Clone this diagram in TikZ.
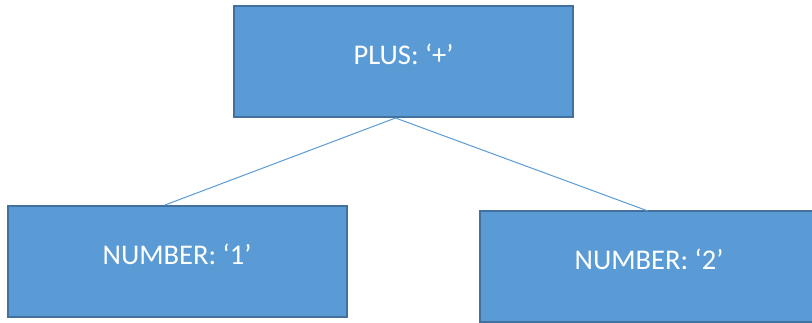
\documentclass[tikz,border=0pt]{standalone}
\usepackage{fontspec}
\setmainfont{Carlito}
\definecolor{boxfill}{HTML}{5B9BD5}
\definecolor{boxdraw}{HTML}{41719C}
\begin{document}
\begin{tikzpicture}[x=1pt,y=1pt,
  tok/.style={rectangle, draw=boxdraw, line width=2pt, fill=boxfill,
    minimum width=339pt, minimum height=111pt, inner sep=0pt,
    text=white, font=\fontsize{28.5}{31}\selectfont},
  edge/.style={draw=boxfill, line width=1pt}]
\useasboundingbox (0,0) rectangle (812,322);
\clip (0,0) rectangle (812,322);
\node[tok] (plus) at (403.5,260.5) {\raisebox{14.5pt}{PLUS: ‘+’}};
\node[tok] (n1) at (177,60.5) {\raisebox{15pt}{NUMBER: ‘1’}};
\node[tok] (n2) at (649,55.5) {\raisebox{14.5pt}{NUMBER: ‘2’}};
\draw[edge] ([xshift=-8pt]plus.south) -- ([xshift=-12pt]n1.north);
\draw[edge] ([xshift=-8pt]plus.south) -- ([xshift=-1pt,yshift=-1pt]n2.north);
\end{tikzpicture}
\end{document}
